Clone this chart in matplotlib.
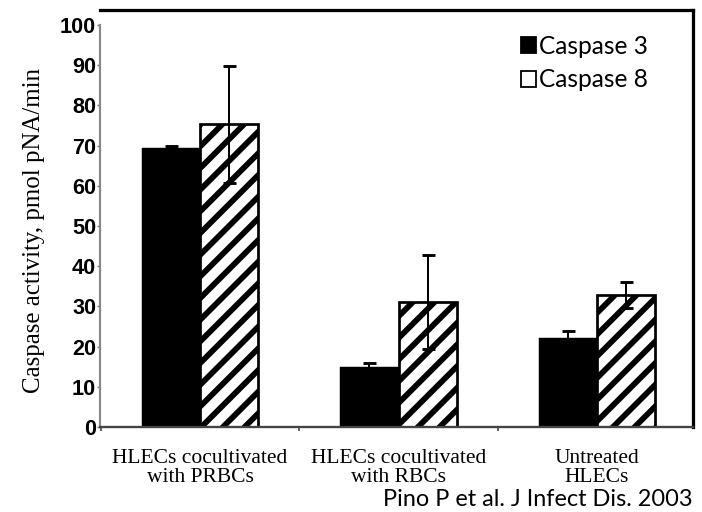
import matplotlib
matplotlib.use('Agg')
import matplotlib.pyplot as plt
from matplotlib.patches import Patch
import numpy as np

# Data (Pino P et al. J Infect Dis. 2003)
groups = ['HLECs cocultivated\nwith PRBCs', 'HLECs cocultivated\nwith RBCs', 'Untreated\nHLECs']
caspase3 = [69.5, 15.0, 22.2]
caspase3_err = [0.3, 1.0, 1.7]
caspase8 = [75.3, 31.0, 32.8]
caspase8_err = [14.5, 11.7, 3.2]
y_ticks = [0, 10, 20, 30, 40, 50, 60, 70, 80, 90, 100]
legend_labels = ['Caspase 3', 'Caspase 8']
citation = 'Pino P et al. J Infect Dis. 2003'


def main():
    dpi = 130
    plt.rcParams['hatch.linewidth'] = 3.2
    fig = plt.figure(figsize=(702 / dpi, 512 / dpi), dpi=dpi)
    ax = fig.add_axes([0.1425, 0.166, 0.8447, 0.8145])

    x = np.arange(len(groups))
    width = 0.293

    ax.bar(x - width / 2, caspase3, width, color='black', edgecolor='black', linewidth=0.8, zorder=2)
    ax.bar(x + width / 2, caspase8, width, color='white', edgecolor='black', linewidth=1.5,
           hatch='//', zorder=2)
    ax.errorbar(x - width / 2, caspase3, yerr=caspase3_err, fmt='none', ecolor='black',
                elinewidth=1.1, capsize=3.6, capthick=1.6, zorder=3)
    ax.errorbar(x + width / 2, caspase8, yerr=caspase8_err, fmt='none', ecolor='black',
                elinewidth=1.1, capsize=3.6, capthick=1.6, zorder=3)

    ax.set_xlim(-0.504, 2.484)
    ax.set_ylim(0, 103.7)

    # y axis
    ax.set_yticks(y_ticks)
    ax.set_yticklabels([str(v) for v in y_ticks], family='Liberation Sans', fontweight='bold',
                       fontsize=12)
    ax.tick_params(axis='y', direction='out', length=1.8, width=0.8, color='#777777', pad=0.3)
    ax.set_ylabel('Caspase activity, pmol pNA/min', family='Liberation Serif', fontsize=13.8)
    ax.yaxis.set_label_coords(-0.093, 0.472)

    # x axis: labels at group centres, small ticks between groups
    ax.set_xticks(x)
    ax.set_xticklabels(groups, family='Liberation Serif', fontsize=11.9, linespacing=1.05)
    ax.tick_params(axis='x', which='major', length=0, pad=12)
    ax.set_xticks([-0.5, 0.5, 1.5], minor=True)
    ax.tick_params(axis='x', which='minor', direction='out', length=2, width=0.9, color='#444444')

    ax.spines['left'].set_bounds(0, 100)
    ax.spines['left'].set_color('#888888')
    ax.spines['left'].set_linewidth(1.2)
    ax.spines['bottom'].set_color('#444444')
    ax.spines['bottom'].set_linewidth(1.3)
    ax.spines['top'].set_linewidth(1.8)
    ax.spines['right'].set_linewidth(1.8)

    # legend
    handles = [Patch(facecolor='black', edgecolor='black', linewidth=1.0),
               Patch(facecolor='white', edgecolor='black', linewidth=1.0)]
    ax.legend(handles, legend_labels, loc='upper left', bbox_to_anchor=(0.71, 0.94),
              frameon=False, prop={'family': 'Lato', 'size': 13.6},
              handlelength=0.62, handleheight=0.62, handletextpad=0.12,
              labelspacing=0.42, borderpad=0, borderaxespad=0)

    fig.text(693 / 702, 12 / 512, citation, family='Lato', fontsize=13, ha='right', va='center')

    fig.savefig('out.png', dpi=dpi)


if __name__ == "__main__":
    main()
